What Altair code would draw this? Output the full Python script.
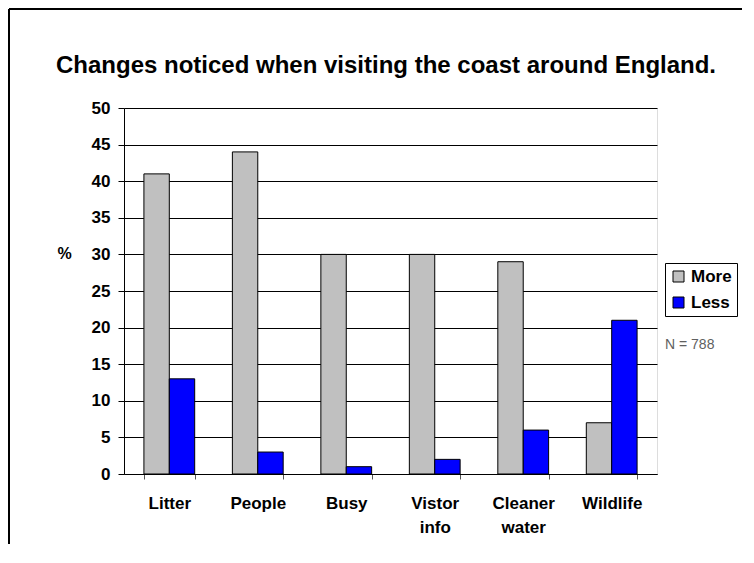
import altair as alt
import pandas as pd

categories = ["Litter", "People", "Busy", "Vistor info", "Cleaner water", "Wildlife"]
more_vals = [41, 44, 30, 30, 29, 7]
less_vals = [13, 3, 1, 2, 6, 21]
series = ["More", "Less"]
colors = ["#C0C0C0", "#0000FF"]
title_text = "Changes noticed when visiting the coast around England."
note_text = "N = 788"

rows = []
for c, m, l in zip(categories, more_vals, less_vals):
    rows.append({"cat": c, "series": "More", "value": m})
    rows.append({"cat": c, "series": "Less", "value": l})
df = pd.DataFrame(rows)

FONT = "Liberation Sans"
W, H = 533, 366

bars = alt.Chart(df).mark_bar(stroke="black", strokeWidth=1).encode(
    x=alt.X("cat:N", sort=categories,
            scale=alt.Scale(paddingInner=0.426, paddingOuter=0.225),
            axis=alt.Axis(title=None, labelAngle=0, labelFont=FONT, labelFontSize=17,
                          labelFontWeight="bold", labelColor="black", labelPadding=16,
                          labelExpr="split(datum.label, ' ')", labelLineHeight=24,
                          tickBand="extent", tickSize=5, tickColor="#555555",
                          domainColor="black", domain=True, grid=False)),
    xOffset=alt.XOffset("series:N", sort=series, scale=alt.Scale(paddingInner=0, paddingOuter=0)),
    y=alt.Y("value:Q", scale=alt.Scale(domain=[0, 50], nice=False),
            axis=alt.Axis(values=list(range(0, 51, 5)), title="%", titleAngle=0,
                          titleX=-60, titleY=145, titleAlign="center", titleBaseline="middle",
                          titleFont=FONT, titleFontSize=16, titleFontWeight="bold", titleColor="black",
                          labelFont=FONT, labelFontSize=17, labelFontWeight="bold", labelColor="black",
                          labelPadding=8, tickSize=6, tickColor="black", domainColor="black",
                          grid=True, gridColor="black", gridWidth=1, gridOpacity=1)),
    color=alt.Color("series:N", sort=series,
                    scale=alt.Scale(domain=series, range=colors),
                    legend=alt.Legend(title=None, orient="none", legendX=541, legendY=155,
                                      strokeColor="black", padding=5, symbolType="square",
                                      symbolSize=121, symbolStrokeColor="black", symbolStrokeWidth=1,
                                      labelFont=FONT, labelFontSize=17, labelFontWeight="bold",
                                      labelColor="black", rowPadding=8, symbolOpacity=1,
                                      labelOffset=4)),
)

title = alt.Chart(pd.DataFrame({"t": [title_text]})).mark_text(
    font=FONT, fontSize=24, fontWeight="bold", color="black", align="center", baseline="middle"
).encode(x=alt.value(262), y=alt.value(-42), text="t:N")

note = alt.Chart(pd.DataFrame({"t": [note_text]})).mark_text(
    font=FONT, fontSize=14, color="#606060", align="left", baseline="middle"
).encode(x=alt.value(541), y=alt.value(237), text="t:N")

frame_top = alt.Chart(pd.DataFrame({"a": [0]})).mark_rule(color="black", strokeWidth=2).encode(
    x=alt.value(-115), x2=alt.value(640), y=alt.value(-99))
frame_left = alt.Chart(pd.DataFrame({"a": [0]})).mark_rule(color="black", strokeWidth=2).encode(
    x=alt.value(-115), y=alt.value(-99), y2=alt.value(480))

chart = alt.layer(bars, title, note, frame_top, frame_left).properties(
    width=W, height=H,
    autosize="none",
    padding={"left": 116, "top": 100, "right": 85, "bottom": 70},
).configure_view(stroke=None).configure(background="white")

chart.save("out.html", embed_options={"renderer": "svg", "actions": False})
